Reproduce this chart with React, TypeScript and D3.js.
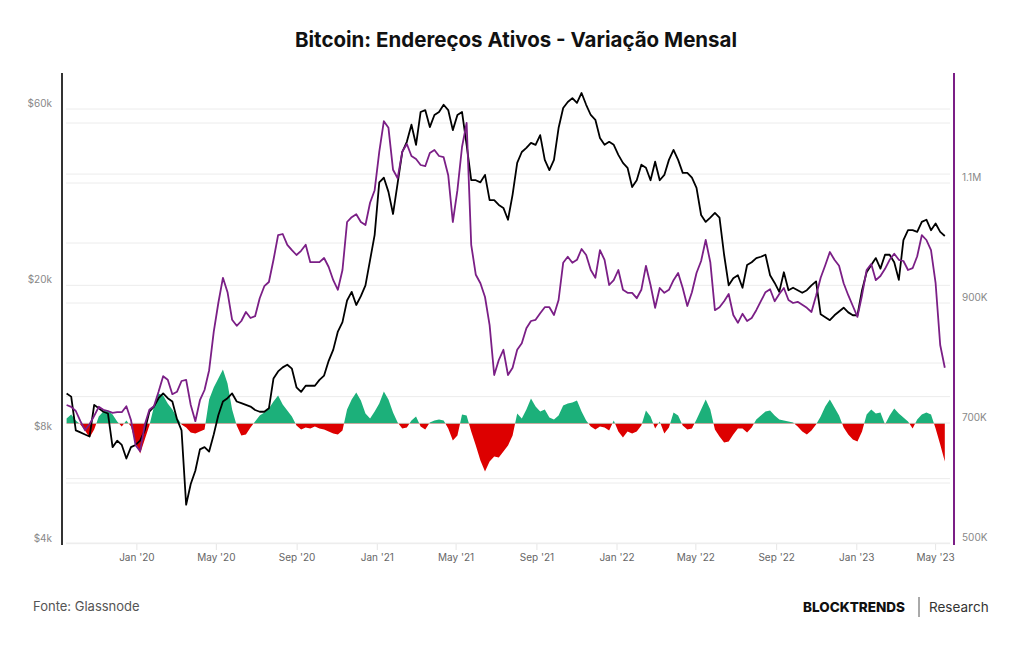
import React from 'react';
import * as d3 from 'd3';

// weekly samples, first week starting on this date
const weekStart = '2019-09-16';

// BTC price, thousands of USD (left log axis)
const priceK = [
  10.2, 10.0, 8.1, 8.0, 7.9, 7.8, 9.5, 9.3, 9.1, 9.0,
  7.3, 7.6, 7.4, 6.8, 7.3, 7.4, 7.6, 8.1, 9.1, 9.4,
  9.9, 10.2, 9.9, 9.7, 8.7, 8.1, 5.1, 5.8, 6.3, 7.2,
  7.3, 7.1, 7.9, 8.9, 9.7, 9.9, 10.2, 9.7, 9.6, 9.5,
  9.4, 9.2, 9.1, 9.1, 9.3, 11.2, 11.7, 12.0, 12.2, 11.9,
  10.6, 10.3, 10.7, 10.7, 10.7, 11.1, 11.4, 12.5, 13.4, 15.0,
  15.9, 18.2, 19.2, 17.7, 18.7, 20.0, 23.4, 27.4, 38.0, 39.1,
  35.8, 31.2, 37.8, 45.9, 48.9, 54.4, 48.0, 58.9, 59.6, 53.6,
  57.8, 58.9, 61.6, 59.6, 52.6, 57.8, 58.9, 48.0, 38.5, 38.5,
  38.0, 39.8, 34.0, 34.0, 33.0, 32.4, 30.1, 35.2, 42.9, 45.9,
  47.1, 48.6, 48.0, 51.0, 43.7, 41.0, 43.7, 53.3, 60.4, 62.7,
  64.2, 62.3, 66.3, 61.6, 57.8, 56.1, 50.1, 48.0, 48.9, 48.0,
  45.1, 42.9, 41.6, 36.9, 38.5, 42.4, 41.6, 38.5, 43.2, 38.5,
  39.8, 43.7, 46.5, 43.7, 40.3, 40.3, 39.1, 36.7, 31.0, 29.7,
  30.5, 31.4, 30.5, 24.2, 20.0, 20.9, 21.3, 19.7, 22.7, 23.1,
  23.7, 23.9, 24.2, 21.3, 20.3, 19.2, 21.7, 19.4, 19.7, 19.4,
  19.1, 19.4, 20.0, 20.5, 16.7, 16.4, 16.1, 16.6, 17.0, 17.4,
  16.9, 16.6, 16.6, 19.4, 21.7, 22.7, 23.7, 22.2, 24.2, 24.2,
  23.1, 20.7, 26.5, 28.2, 28.2, 27.9, 29.7, 30.1, 28.2, 29.4,
  27.9, 27.2,
];

// active addresses, thousands (right axis)
const activeK = [
  730, 727, 720, 703, 688, 698, 712, 727, 722, 720,
  717, 718, 718, 728, 705, 663, 653, 697, 722, 728,
  752, 778, 772, 748, 752, 770, 772, 730, 703, 738,
  755, 788, 852, 900, 942, 918, 872, 862, 870, 885,
  875, 878, 908, 928, 935, 972, 1013, 1015, 997, 988,
  980, 987, 997, 968, 968, 968, 975, 960, 938, 922,
  955, 1035, 1043, 1048, 1035, 1030, 1067, 1088, 1152, 1203,
  1192, 1122, 1108, 1152, 1165, 1145, 1140, 1130, 1128, 1150,
  1155, 1145, 1143, 1113, 1035, 1088, 1160, 1200, 997, 947,
  933, 910, 863, 780, 805, 822, 780, 792, 822, 833,
  858, 870, 872, 883, 893, 893, 880, 905, 967, 977,
  967, 972, 990, 980, 955, 942, 988, 972, 930, 938,
  955, 922, 917, 917, 908, 922, 962, 930, 892, 925,
  917, 922, 938, 950, 925, 895, 918, 950, 970, 1005,
  968, 888, 893, 903, 915, 880, 867, 882, 870, 875,
  888, 903, 918, 923, 903, 915, 925, 905, 900, 902,
  897, 892, 885, 912, 942, 963, 985, 972, 962, 933,
  913, 895, 877, 913, 955, 965, 938, 945, 957, 972,
  982, 972, 970, 955, 958, 978, 1013, 1005, 988, 933,
  830, 792,
];

// monthly change of active addresses, %
const monthlyChange = [
  3.1, 5.6, 1.9, -0.6, -4.4, -8.8, -3.8, 4.4, 7.5, 8.1,
  5.6, 1.3, -1.9, 1.9, -1.9, -11.9, -18.8, -10, -1.3, 10.6,
  18.8, 17.5, 12.5, 8.8, 3.8, -0.6, -2.5, -5.6, -6.3, -5,
  -3.8, 15, 22.5, 28.1, 33.8, 25, 8.8, -1.3, -7.5, -6.9,
  -2.5, 1.3, 5, 6.9, 9.4, 13.8, 17.5, 11.9, 8.1, 4.4,
  -1.3, -3.8, -2.5, -3.1, -1.9, -3.1, -3.8, -5, -6.3, -6.9,
  -4.4, 8.8, 15, 19.4, 14.4, 6.3, 3.1, 7.5, 12.5, 20,
  15, 6.9, 0.6, -3.1, -2.5, 1.9, 4.4, -1.9, -3.8, 0.6,
  1.9, 2.5, 1.9, -3.1, -10.6, -7.5, 5.6, 5, -5, -13.8,
  -23.1, -30, -23.8, -20.6, -21.3, -17.5, -13.8, -7.5, 6.3, 3.1,
  8.8, 15.6, 10.6, 7.5, 8.8, 3.8, 2.5, 5, 11.3, 12.5,
  13.1, 14.4, 7.5, 1.9, -1.9, -3.8, -1.9, -2.5, -4.4, 1.9,
  -5, -8.8, -5, -6.3, -5, -1.3, 8.1, 4.4, -3.1, 1.3,
  -6.3, -2.5, 6.9, 5, -1.3, -3.8, -3.1, 2.5, 8.8, 15,
  8.8, -3.8, -8.1, -11.9, -11.3, -6.9, -3.1, -3.1, -5.6, -2.5,
  2.5, 5, 7.5, 8.1, 5, 2.5, 1.9, 1.3, 0.6, -1.9,
  -5, -6.9, -4.4, -0.6, 4.4, 10.6, 15, 10, 5, -2.5,
  -6.9, -10, -11.3, -5, 5.6, 8.8, 6.3, 6.9, -0.6, 5,
  9.4, 6.3, 3.8, 1.3, -3.1, 2.5, 5.6, 6.9, 5.6, -3.1,
  -13.1, -23.8,
];

const priceGrid = [60000, 40000, 20000, 10000, 6000, 4000];
const priceLabels = [60000, 20000, 8000, 4000];
const activeGrid = [500, 600, 700, 800, 900, 1000, 1100, 1200];
const activeLabels = [500, 700, 900, 1100];

const FONT = 'Inter, "Noto Sans", Arial, sans-serif';
const PURPLE = '#7b1f86';
const GREEN = '#1cb07a';
const RED = '#dd0000';

const plot = { left: 62, right: 954, top: 73, bottom: 545 };

export default function App() {
  const start = new Date(weekStart + 'T00:00:00Z');
  const dates = priceK.map((_, i) => d3.utcDay.offset(start, 7 * i));

  const x = d3
    .scaleUtc()
    .domain([new Date(Date.UTC(2019, 8, 9)), new Date(Date.UTC(2023, 4, 29))])
    .range([plot.left, plot.right]);
  const yPrice = d3.scaleLog().domain([4000, 60000]).range([543.7, 109]);
  const yActive = d3.scaleLinear().domain([500, 1100]).range([543, 183]);
  const yChange = d3.scaleLinear().domain([-50, 50]).range([503.5, 343.5]);

  const priceLine = d3
    .line<number>()
    .x((_, i) => x(dates[i]))
    .y((d) => yPrice(d * 1000));
  const activeLine = d3
    .line<number>()
    .x((_, i) => x(dates[i]))
    .y((d) => yActive(d));
  const changeArea = d3
    .area<number>()
    .x((_, i) => x(dates[i]))
    .y0(yChange(0))
    .y1((d) => yChange(d));

  const zeroY = yChange(0);
  const xTicks = x.ticks(d3.utcMonth.every(4) as any);
  const fmtX = d3.utcFormat("%b '%y");
  const fmtActive = (v: number) => (v >= 1000 ? `${v / 1000}M` : `${v}K`);

  return (
    <svg
      width={1024}
      height={645}
      style={{ position: 'absolute', left: 0, top: 0, background: '#fff' }}
      fontFamily={FONT}
    >
      <defs>
        <clipPath id="pos">
          <rect x={plot.left} y={0} width={plot.right - plot.left} height={zeroY} />
        </clipPath>
        <clipPath id="neg">
          <rect x={plot.left} y={zeroY} width={plot.right - plot.left} height={200} />
        </clipPath>
      </defs>

      <text x={516} y={47} textAnchor="middle" fontSize={20.5} fontWeight={700} fill="#111">
        Bitcoin: Endereços Ativos - Variação Mensal
      </text>

      {/* grid */}
      <g stroke="#ececec" strokeWidth={1}>
        {activeGrid.map((v) => (
          <line key={'a' + v} x1={plot.left + 4} x2={plot.right - 4} y1={yActive(v)} y2={yActive(v)} />
        ))}
        {priceGrid.map((v) => (
          <line key={'p' + v} x1={plot.left + 4} x2={plot.right - 4} y1={yPrice(v)} y2={yPrice(v)} />
        ))}
      </g>

      {/* x axis */}
      <g>
        {xTicks.map((t) => (
          <g key={t.getTime()}>
            <line x1={x(t)} x2={x(t)} y1={544} y2={550} stroke="#e6e6e6" />
            <text x={x(t)} y={561} textAnchor="middle" fontSize={10} fill="#666">
              {fmtX(t)}
            </text>
          </g>
        ))}
      </g>

      {/* monthly change */}
      <path d={changeArea(monthlyChange) || ''} fill={GREEN} clipPath="url(#pos)" />
      <path d={changeArea(monthlyChange) || ''} fill={RED} clipPath="url(#neg)" />

      <path d={priceLine(priceK) || ''} fill="none" stroke="#000" strokeWidth={1.8} strokeLinejoin="round" />
      <path d={activeLine(activeK) || ''} fill="none" stroke={PURPLE} strokeWidth={1.8} strokeLinejoin="round" />

      {/* left axis */}
      <line x1={plot.left} x2={plot.left} y1={plot.top} y2={plot.bottom} stroke="#333" strokeWidth={2} />
      {priceLabels.map((v) => (
        <text key={v} x={52} y={yPrice(v) - 2} textAnchor="end" fontSize={10} fill="#888">
          {`$${v / 1000}k`}
        </text>
      ))}

      {/* right axis */}
      <line x1={plot.right} x2={plot.right} y1={plot.top} y2={plot.bottom} stroke={PURPLE} strokeWidth={2} />
      {activeLabels.map((v) => (
        <text key={v} x={962} y={yActive(v) - 2} fontSize={10} fill="#888">
          {fmtActive(v)}
        </text>
      ))}

      {/* footer */}
      <text x={33} y={611} fontSize={13} fill="#555">
        Fonte: Glassnode
      </text>
      <text x={803} y={612} fontSize={13.5} fontWeight={800} fill="#111">
        BLOCKTRENDS
      </text>
      <line x1={919} x2={919} y1={597} y2={617} stroke="#555" strokeWidth={1} />
      <text x={929} y={612} fontSize={13.5} fill="#333">
        Research
      </text>
    </svg>
  );
}
